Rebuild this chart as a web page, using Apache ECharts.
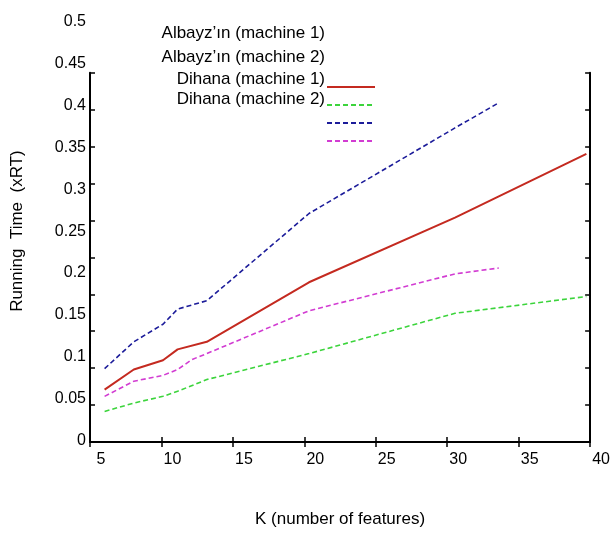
<!DOCTYPE html>
<html><head><meta charset="utf-8">
<script src="https://cdn.jsdelivr.net/npm/echarts@6/dist/echarts.min.js"></script>
<style>html,body{margin:0;padding:0;background:#fff}#c{width:613px;height:533px}</style>
</head><body><div id="c"></div>
<script>
// ---- data ----
const seriesNames = ['Albayz’ın (machine 1)', 'Albayz’ın (machine 2)', 'Dihana (machine 1)', 'Dihana (machine 2)'];
const kRed = [6, 8, 10, 11, 13, 20, 30, 39];
const valRed = [0.061, 0.085, 0.096, 0.109, 0.118, 0.189, 0.266, 0.342];
const kGreen = [6, 8, 10, 11, 13, 20, 30, 39];
const valGreen = [0.035, 0.045, 0.053, 0.059, 0.073, 0.104, 0.152, 0.172];
const kBlue = [6, 8, 10, 11, 13, 20, 30, 33];
const valBlue = [0.086, 0.118, 0.139, 0.157, 0.167, 0.271, 0.373, 0.403];
const kMagenta = [6, 8, 10, 11, 12, 13, 20, 30, 33];
const valMagenta = [0.053, 0.071, 0.078, 0.085, 0.097, 0.104, 0.155, 0.199, 0.206];
const xTicks = [5, 10, 15, 20, 25, 30, 35, 40];
const yTicks = [0, 0.05, 0.1, 0.15, 0.2, 0.25, 0.3, 0.35, 0.4, 0.45, 0.5];

const zip = (a, b) => a.map((x, i) => [x, b[i]]);
const colors = ['#c42a20', '#3cd43c', '#1c1c9a', '#d23cd2'];
const styles = [
  { width: 2, type: 'solid' },
  { width: 1.6, type: [5, 3] },
  { width: 1.6, type: [5, 3] },
  { width: 1.6, type: [5, 3] }
];
const dataSets = [zip(kRed, valRed), zip(kGreen, valGreen), zip(kBlue, valBlue), zip(kMagenta, valMagenta)];

const FONT = 'Liberation Sans, Arial, sans-serif';
const chart = echarts.init(document.getElementById('c'), null, { renderer: 'canvas' });

const textLegendPos = [24.8, 48.5, 70.8, 90.8];
const textLegends = seriesNames.map((n, i) => ({
  data: [n], orient: 'vertical', right: 288, top: textLegendPos[i], padding: 0,
  icon: 'none', itemWidth: 0, itemHeight: 14, selectedMode: false,
  textStyle: { fontFamily: FONT, fontSize: 17, color: '#000' }
}));

const option = {
  animation: false,
  backgroundColor: '#fff',
  grid: [
    { left: 90, top: 72.7, width: 511, height: 374, containLabel: false },
    { left: 90, top: 21.4, width: 511, height: 419.4, containLabel: false }
  ],
  legend: [
    {
      data: seriesNames, orient: 'vertical', left: 326, top: 81, padding: 0,
      itemWidth: 48, itemHeight: 12, itemGap: 7.2, selectedMode: false,
      itemStyle: { opacity: 0, borderWidth: 0 },
      formatter: () => '', textStyle: { fontSize: 10 }
    }
  ].concat(textLegends),
  xAxis: [
    {
      gridIndex: 0, type: 'value', min: xTicks[0], max: xTicks[xTicks.length - 1], interval: 5,
      position: 'bottom',
      axisLine: { show: true, lineStyle: { color: '#000', width: 2 } },
      axisTick: { show: true, inside: true, length: 5, lineStyle: { color: '#000', width: 1.5 } },
      axisLabel: { show: true, margin: 10, fontFamily: FONT, fontSize: 16, color: '#000', padding: [0, 0, 0, 22], showMinLabel: true, showMaxLabel: true },
      splitLine: { show: false },
      name: 'K (number of features)', nameLocation: 'middle', nameGap: 69,
      nameTextStyle: { fontFamily: FONT, fontSize: 17, color: '#000' }
    },
    {
      gridIndex: 0, type: 'value', min: 5, max: 40, interval: 5, position: 'top',
      axisLine: { show: true, lineStyle: { color: '#000', width: 2 } },
      axisTick: { show: true, inside: true, length: 5, lineStyle: { color: '#000', width: 1.5 } },
      axisLabel: { show: false }, splitLine: { show: false }
    },
    {
      gridIndex: 1, type: 'value', min: 5, max: 40, show: false
    }
  ],
  yAxis: [
    {
      gridIndex: 0, type: 'value', min: 0, max: 0.5, interval: 0.05, position: 'left',
      axisLine: { show: true, lineStyle: { color: '#000', width: 2 } },
      axisTick: { show: true, inside: true, length: 5, lineStyle: { color: '#000', width: 1.5 } },
      axisLabel: { show: false }, splitLine: { show: false }
    },
    {
      gridIndex: 0, type: 'value', min: 0, max: 0.5, interval: 0.05, position: 'right',
      axisLine: { show: true, lineStyle: { color: '#000', width: 2 } },
      axisTick: { show: true, inside: true, length: 5, lineStyle: { color: '#000', width: 1.5 } },
      axisLabel: { show: false }, splitLine: { show: false }
    },
    {
      gridIndex: 1, type: 'value', min: yTicks[0], max: yTicks[yTicks.length - 1], interval: 0.05, position: 'left',
      axisLine: { show: false }, axisTick: { show: false }, splitLine: { show: false },
      axisLabel: { show: true, margin: 4, fontFamily: FONT, fontSize: 16, color: '#000',
        formatter: v => String(+v.toFixed(2)), showMinLabel: true, showMaxLabel: true },
      name: 'Running  Time  (xRT)', nameLocation: 'middle', nameGap: 64.5, nameRotate: 90,
      nameTextStyle: { fontFamily: FONT, fontSize: 17, color: '#000' }
    }
  ],
  series: seriesNames.map((n, i) => ({
    name: n, type: 'line', xAxisIndex: 2, yAxisIndex: 2,
    data: dataSets[i], symbol: 'none', smooth: false,
    lineStyle: { color: colors[i], width: styles[i].width, type: styles[i].type },
    itemStyle: { color: colors[i] }, z: 3
  }))
};
chart.setOption(option);
</script>
</body></html>
